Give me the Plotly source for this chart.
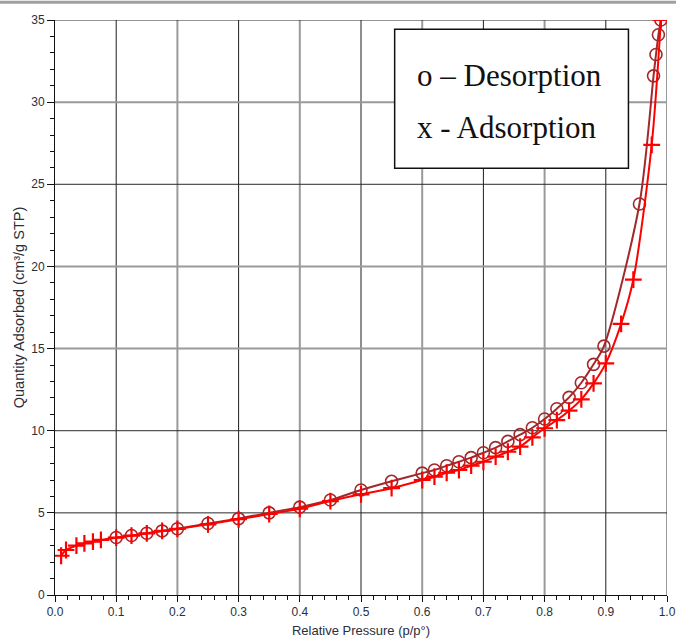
import plotly.graph_objects as go

# Adsorption branch (+ markers)
ads_p = [0.01, 0.018, 0.035, 0.048, 0.062, 0.075, 0.1, 0.125, 0.15, 0.175, 0.2, 0.25, 0.3, 0.35, 0.4,
         0.45, 0.5, 0.55, 0.6, 0.62, 0.64, 0.66, 0.68, 0.7, 0.72, 0.74, 0.76, 0.78, 0.8, 0.82, 0.84,
         0.86, 0.88, 0.9, 0.925, 0.945, 0.975, 0.99]
ads_q = [2.39, 2.74, 3.0, 3.14, 3.25, 3.35, 3.49, 3.61, 3.75, 3.90, 4.02, 4.30, 4.61, 4.93, 5.25,
         5.72, 6.13, 6.5, 7.0, 7.2, 7.44, 7.61, 7.87, 8.11, 8.42, 8.72, 9.03, 9.6, 10.15, 10.65, 11.22,
         11.91, 12.88, 14.1, 16.5, 19.2, 27.4, 35.0]

# Desorption branch (o markers)
des_p = [0.99, 0.986, 0.982, 0.978, 0.955, 0.897, 0.88, 0.86, 0.84, 0.82, 0.80, 0.78, 0.76, 0.74,
         0.72, 0.70, 0.68, 0.66, 0.64, 0.62, 0.60, 0.55, 0.5, 0.45, 0.4, 0.35, 0.3, 0.25, 0.2, 0.175,
         0.15, 0.125, 0.1]
des_q = [35.0, 34.1, 32.9, 31.6, 23.8, 15.15, 14.04, 12.92, 12.03, 11.34, 10.71, 10.18, 9.76, 9.35,
         8.97, 8.66, 8.36, 8.11, 7.87, 7.61, 7.42, 6.92, 6.39, 5.78, 5.35, 5.0, 4.65, 4.35, 4.03, 3.9,
         3.76, 3.62, 3.5]

x_ticks = [0.0, 0.1, 0.2, 0.3, 0.4, 0.5, 0.6, 0.7, 0.8, 0.9, 1.0]
y_ticks = [0, 5, 10, 15, 20, 25, 30, 35]

x_grid_dark = [0.1, 0.3, 0.5, 0.7, 0.9]
x_grid_light = [0.2, 0.4, 0.6, 0.8, 1.0]
y_grid_dark = [5, 10, 25, 35]
y_grid_light = [15, 20, 30]

legend_lines = ["o \u2013 Desorption", "x - Adsorption"]

ADS_COLOR = "#ff0000"
DES_COLOR = "#a3282b"
TXT = "#2a2f3a"

fig = go.Figure()
fig.add_trace(go.Scatter(
    x=des_p, y=des_q, mode="lines+markers",
    line=dict(color=DES_COLOR, width=2, shape="spline", smoothing=0.8),
    marker=dict(symbol="circle-open", size=12, color=DES_COLOR, line=dict(width=1.6, color=DES_COLOR)),
    showlegend=False, name="Desorption"))
fig.add_trace(go.Scatter(
    x=ads_p, y=ads_q, mode="lines+markers",
    line=dict(color=ADS_COLOR, width=2, shape="spline", smoothing=0.8),
    marker=dict(symbol="cross-thin", size=12, color=ADS_COLOR, line=dict(width=2.2, color=ADS_COLOR)),
    showlegend=False, name="Adsorption"))

shapes = []
for gx in x_grid_dark:
    shapes.append(dict(type="line", xref="x", yref="paper", x0=gx, x1=gx, y0=0, y1=1,
                       line=dict(color="#1e1e1e", width=1), layer="below"))
for gx in x_grid_light:
    shapes.append(dict(type="line", xref="x", yref="paper", x0=gx, x1=gx, y0=0, y1=1,
                       line=dict(color="#9a9a9a", width=2), layer="below"))
for gy in y_grid_dark:
    shapes.append(dict(type="line", xref="paper", yref="y", x0=0, x1=1, y0=gy, y1=gy,
                       line=dict(color="#2a2a2a", width=1), layer="below"))
for gy in y_grid_light:
    shapes.append(dict(type="line", xref="paper", yref="y", x0=0, x1=1, y0=gy, y1=gy,
                       line=dict(color="#9a9a9a", width=2), layer="below"))
# top grey bar of window
shapes.append(dict(type="line", xref="paper", yref="paper", x0=-0.2, x1=1.1, y0=1.031, y1=1.031,
                   line=dict(color="#a0a0a0", width=3)))
# legend box
shapes.append(dict(type="rect", xref="paper", yref="paper", x0=0.555, x1=0.937, y0=0.742, y1=0.984,
                   line=dict(color="#111111", width=1.5), fillcolor="white", layer="above"))

annotations = []
for txt, yp in zip(legend_lines, [0.903, 0.813]):
    annotations.append(dict(text=txt, xref="paper", yref="paper", x=0.588, y=yp,
                            xanchor="left", yanchor="middle", showarrow=False,
                            font=dict(family="Liberation Serif, Times New Roman, serif", size=31,
                                      color="#111111")))

fig.update_layout(
    width=676, height=639,
    margin=dict(l=55, r=9, t=20, b=44),
    paper_bgcolor="white", plot_bgcolor="white",
    shapes=shapes, annotations=annotations,
    font=dict(family="Liberation Sans, Arial, sans-serif", size=12, color=TXT),
    xaxis=dict(range=[0, 1], tickvals=x_ticks, tickformat=".1f", showgrid=False, zeroline=False,
               showline=True, linecolor="#111111", linewidth=1, ticks="outside", ticklen=6,
               tickcolor="#111111", tickfont=dict(size=12, color=TXT),
               minor=dict(dtick=0.02, ticks="outside", ticklen=4, tickcolor="#111111", showgrid=False),
               title=dict(text="Relative Pressure (p/p\u00b0)", font=dict(size=13, color=TXT), standoff=7),
               automargin=False, fixedrange=True),
    yaxis=dict(range=[0, 35], tickvals=y_ticks, showgrid=False, zeroline=False,
               showline=True, linecolor="#111111", linewidth=1, ticks="outside", ticklen=7,
               tickcolor="#111111", tickfont=dict(size=12, color=TXT),
               minor=dict(dtick=1, ticks="outside", ticklen=4, tickcolor="#111111", showgrid=False),
               title=dict(text="Quantity Adsorbed (cm\u00b3/g STP)", font=dict(size=14.5, color=TXT), standoff=3),
               automargin=False, fixedrange=True),
)

fig.write_html("out.html", config={"displayModeBar": False, "staticPlot": True},
               post_script="document.body.style.margin='0';document.body.style.padding='0';")
